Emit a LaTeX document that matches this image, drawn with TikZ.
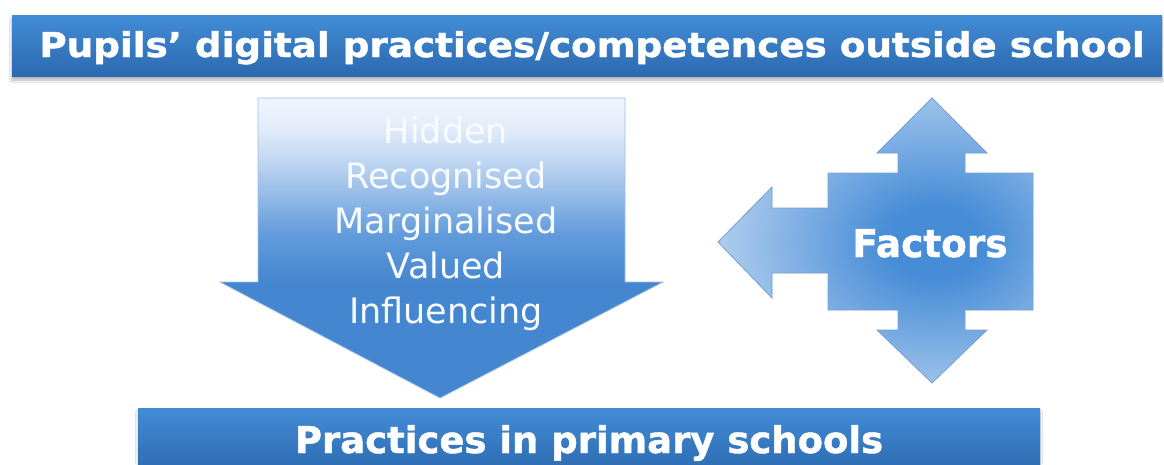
\documentclass[tikz,border=0pt]{standalone}
\usepackage{fontspec}
\setmainfont{DejaVu Sans}
\newfontface\heavyface{DejaVu Sans Bold}[FakeBold=1.2]
\usetikzlibrary{shadows.blur}

% palette
\definecolor{barTop}{RGB}{66,140,214}
\definecolor{barBot}{RGB}{44,106,176}
\definecolor{arrowDark}{RGB}{68,134,207}
\definecolor{arrowMid}{RGB}{96,154,219}
\definecolor{arrowPale}{RGB}{150,188,232}
\definecolor{arrowPaler}{RGB}{188,212,241}
\definecolor{arrowLighter}{RGB}{226,236,249}
\definecolor{arrowLight}{RGB}{240,245,252}
\definecolor{arrowEdge}{RGB}{160,192,228}
\definecolor{fcDark}{RGB}{70,140,215}
\definecolor{fcLight}{RGB}{186,212,240}
\definecolor{fcEdge}{RGB}{120,160,205}
\definecolor{labelText}{RGB}{248,251,255}

% light at the top, full blue from the arrow head downwards
\pgfdeclareverticalshading{fadedown}{100bp}{%
  color(0bp)=(arrowDark); color(25bp)=(arrowDark); color(44bp)=(arrowDark);
  color(52bp)=(arrowMid); color(59bp)=(arrowPale); color(64bp)=(arrowPaler);
  color(70bp)=(arrowLighter); color(75bp)=(arrowLight); color(100bp)=(arrowLight)}
% dark core fading outwards
\pgfdeclareradialshading{corefade}{\pgfpoint{0bp}{0bp}}{%
  color(0bp)=(fcDark); color(5bp)=(fcDark); color(25bp)=(fcLight); color(50bp)=(fcLight)}

% heavy label set to a given width and height
\newcommand\fitbox[3]{\resizebox{#1}{#2}{#3}}

\tikzset{
  bar/.style={top color=barTop, bottom color=barBot,
    blur shadow={shadow xshift=0pt, shadow yshift=-4pt, shadow blur steps=8, shadow opacity=30}},
  bartext/.style={anchor=base, inner sep=0pt, text=white, font=\heavyface},
  listtext/.style={anchor=base, inner sep=0pt, text=labelText, font=\fontsize{35pt}{45pt}\selectfont},
  downarrow/.style={shading=fadedown, draw=arrowEdge, line width=0.8pt},
  factoredge/.style={draw=fcEdge, line width=0.8pt, line join=miter},
}

\begin{document}
\begin{tikzpicture}[x=1pt, y=-1pt]
  \useasboundingbox (0,0) rectangle (1164,464);
  \clip (0,0) rectangle (1164,464);
  \fill[white] (0,0) rectangle (1164,464);

  % bars
  \path[bar] (12,15) rectangle (1162,76);
  \path[bar] (138,408) rectangle (1040,474);

  % block arrow pointing down
  \path[downarrow] (258,98) -- (625,98) -- (625,282) -- (663,282) -- (440,398)
    -- (220,282) -- (258,282) -- cycle;

  % four-way block arrow
  \def\factorshape{(718,242) -- (772,187) -- (772,208) -- (828,208) -- (828,173)
    -- (898,173) -- (898,153) -- (877,153) -- (932,98) -- (987,153) -- (965,153)
    -- (965,173) -- (1033,173) -- (1033,310) -- (965,310) -- (965,330) -- (987,330)
    -- (932,383) -- (877,330) -- (898,330) -- (898,310) -- (828,310) -- (828,273)
    -- (772,273) -- (772,298) -- cycle}
  \begin{scope}
    \clip \factorshape;
    \fill[fcLight] (700,90) rectangle (1050,390);
    \shade[shading=corefade] (935,242) ellipse [x radius=235, y radius=180];
  \end{scope}
  \draw[factoredge] \factorshape;

  % labels
  \node[bartext] (outside) at (592,57)
    {\fitbox{1105pt}{26pt}{Pupils’ digital practices/competences outside school}};
  \node[bartext] (school) at (589,453)
    {\fitbox{588pt}{28pt}{Practices in primary schools}};
  \node[bartext] (factors) at (930,257) {\fitbox{155pt}{28pt}{Factors}};

  \node[listtext] (hidden) at (446,143) {Hidden};
  \node[listtext] (recognised) at (446,188) {Recognised};
  \node[listtext] (marginalised) at (446,233) {Marginalised};
  \node[listtext] (valued) at (446,278) {Valued};
  \node[listtext] (influencing) at (446,323) {Influencing};
\end{tikzpicture}
\end{document}
